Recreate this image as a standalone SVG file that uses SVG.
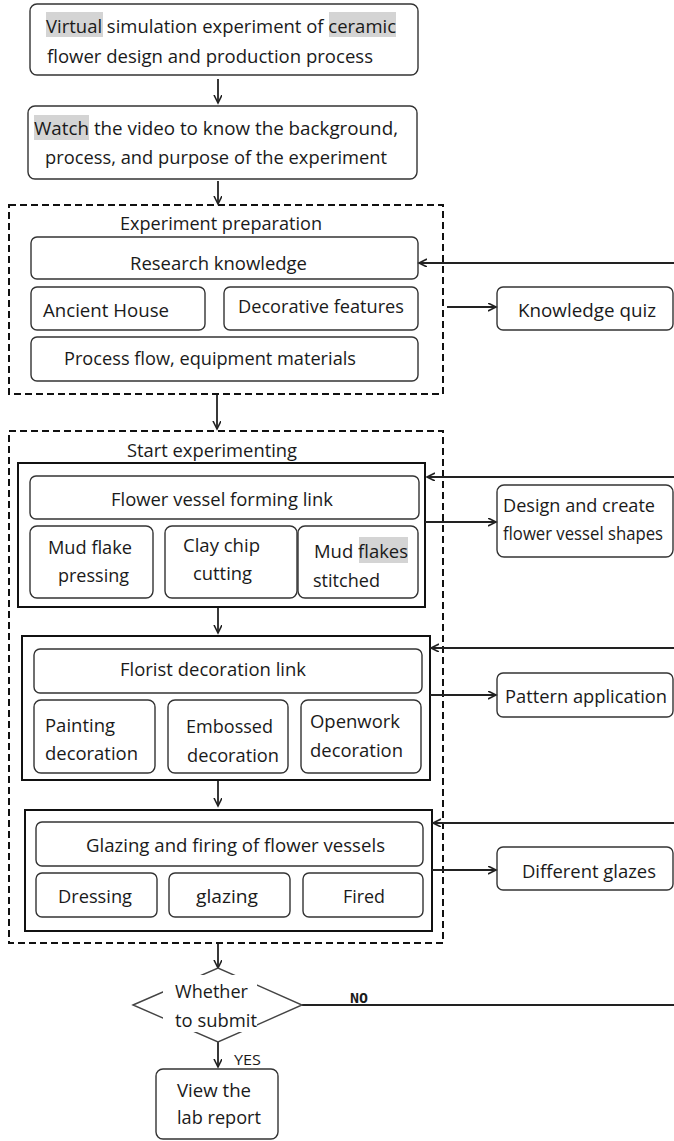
<svg xmlns="http://www.w3.org/2000/svg" width="674" height="1141" viewBox="0 0 674 1141">
<style>
.bg{fill:#ffffff}
.n{fill:#ffffff;stroke:#333;stroke-width:1.4}
.g{fill:none;stroke:#111;stroke-width:2}
.d{fill:none;stroke:#111;stroke-width:2;stroke-dasharray:7 4}
.hl{fill:#d4d4d4}
text{font-family:"Open Sans","Noto Sans","DejaVu Sans",sans-serif;font-size:19px;fill:#1a1a1a}
.sm{font-size:15px}
.c{stroke:#222;stroke-width:1.8;fill:none}
</style>
<defs>
<marker id="ah" markerUnits="userSpaceOnUse" markerWidth="10" markerHeight="10" refX="8" refY="4" orient="auto">
<path d="M0,0 L8,4 L0,8" fill="none" stroke="#222" stroke-width="1.6"/>
</marker>
</defs>
<rect class="bg" x="0" y="0" width="674" height="1141"/>

<g id="containers">
<rect id="prep" class="d" x="9" y="205" width="434" height="189"/>
<rect id="exp" class="d" x="9" y="431" width="434" height="512"/>
<rect id="forming" class="g" x="18" y="463" width="407" height="144"/>
<rect id="decor" class="g" x="22" y="636" width="408" height="144"/>
<rect id="glazefire" class="g" x="25" y="810" width="407" height="121"/>
<text x="120" y="230" textLength="202" lengthAdjust="spacingAndGlyphs">Experiment preparation</text>
<text x="127" y="457" textLength="170" lengthAdjust="spacingAndGlyphs">Start experimenting</text>
</g>

<g id="n1">
<rect class="n" x="30" y="4" width="388" height="71" rx="7"/>
<rect class="hl" x="46" y="12" width="57" height="25"/>
<rect class="hl" x="329" y="12" width="67" height="25"/>
<text x="46" y="33" textLength="350" lengthAdjust="spacingAndGlyphs">Virtual simulation experiment of ceramic</text>
<text x="47" y="63" textLength="326" lengthAdjust="spacingAndGlyphs">flower design and production process</text>
</g>
<g id="n2">
<rect class="n" x="28" y="106" width="389" height="73" rx="7"/>
<rect class="hl" x="34" y="115" width="55" height="25"/>
<text x="34" y="135" textLength="364" lengthAdjust="spacingAndGlyphs">Watch the video to know the background,</text>
<text x="45" y="164" textLength="342" lengthAdjust="spacingAndGlyphs">process, and purpose of the experiment</text>
</g>
<g id="n3">
<rect class="n" x="31" y="237" width="387" height="42" rx="6"/>
<text x="130" y="270" textLength="177" lengthAdjust="spacingAndGlyphs">Research knowledge</text>
</g>
<g id="n4">
<rect class="n" x="31" y="287" width="174" height="43" rx="6"/>
<text x="43" y="317" textLength="126" lengthAdjust="spacingAndGlyphs">Ancient House</text>
</g>
<g id="n5">
<rect class="n" x="224" y="287" width="194" height="43" rx="6"/>
<text x="238" y="313" textLength="166" lengthAdjust="spacingAndGlyphs">Decorative features</text>
</g>
<g id="n6">
<rect class="n" x="31" y="337" width="387" height="44" rx="6"/>
<text x="64" y="365" textLength="292" lengthAdjust="spacingAndGlyphs">Process flow, equipment materials</text>
</g>
<g id="n7">
<rect class="n" x="497" y="287" width="176" height="43" rx="6"/>
<text x="518" y="317" textLength="138" lengthAdjust="spacingAndGlyphs">Knowledge quiz</text>
</g>

<g id="n8">
<rect class="n" x="30" y="476" width="389" height="43" rx="6"/>
<text x="111" y="506" textLength="222" lengthAdjust="spacingAndGlyphs">Flower vessel forming link</text>
</g>
<g id="n9">
<rect class="n" x="30" y="526" width="123" height="72" rx="7"/>
<text x="48" y="554" textLength="84" lengthAdjust="spacingAndGlyphs">Mud flake</text>
<text x="58" y="582" textLength="71" lengthAdjust="spacingAndGlyphs">pressing</text>
</g>
<g id="n10">
<rect class="n" x="165" y="526" width="132" height="72" rx="7"/>
<text x="183" y="552" textLength="77" lengthAdjust="spacingAndGlyphs">Clay chip</text>
<text x="193" y="580" textLength="59" lengthAdjust="spacingAndGlyphs">cutting</text>
</g>
<g id="n11">
<rect class="n" x="298" y="526" width="120" height="72" rx="7"/>
<rect class="hl" x="359" y="537" width="49" height="26"/>
<text x="314" y="558" textLength="94" lengthAdjust="spacingAndGlyphs">Mud flakes</text>
<text x="313" y="587" textLength="67" lengthAdjust="spacingAndGlyphs">stitched</text>
</g>
<g id="n12">
<rect class="n" x="497" y="485" width="176" height="72" rx="7"/>
<text x="503" y="512" textLength="152" lengthAdjust="spacingAndGlyphs">Design and create</text>
<text x="503" y="540" textLength="160" lengthAdjust="spacingAndGlyphs" style="font-size:18px">flower vessel shapes</text>
</g>

<g id="n13">
<rect class="n" x="34" y="649" width="388" height="44" rx="6"/>
<text x="120" y="676" textLength="186" lengthAdjust="spacingAndGlyphs">Florist decoration link</text>
</g>
<g id="n14">
<rect class="n" x="34" y="700" width="121" height="73" rx="7"/>
<text x="45" y="732" textLength="70" lengthAdjust="spacingAndGlyphs">Painting</text>
<text x="45" y="760" textLength="93" lengthAdjust="spacingAndGlyphs">decoration</text>
</g>
<g id="n15">
<rect class="n" x="168" y="700" width="120" height="73" rx="7"/>
<text x="186" y="733" textLength="87" lengthAdjust="spacingAndGlyphs">Embossed</text>
<text x="187" y="762" textLength="92" lengthAdjust="spacingAndGlyphs">decoration</text>
</g>
<g id="n16">
<rect class="n" x="301" y="700" width="120" height="73" rx="7"/>
<text x="310" y="728" textLength="90" lengthAdjust="spacingAndGlyphs">Openwork</text>
<text x="310" y="757" textLength="93" lengthAdjust="spacingAndGlyphs">decoration</text>
</g>
<g id="n17">
<rect class="n" x="497" y="673" width="176" height="44" rx="6"/>
<text x="505" y="703" textLength="162" lengthAdjust="spacingAndGlyphs">Pattern application</text>
</g>

<g id="n18">
<rect class="n" x="36" y="822" width="387" height="44" rx="6"/>
<text x="86" y="852" textLength="299" lengthAdjust="spacingAndGlyphs">Glazing and firing of flower vessels</text>
</g>
<g id="n19">
<rect class="n" x="36" y="873" width="121" height="44" rx="6"/>
<text x="58" y="903" textLength="74" lengthAdjust="spacingAndGlyphs">Dressing</text>
</g>
<g id="n20">
<rect class="n" x="169" y="873" width="121" height="44" rx="6"/>
<text x="196" y="903" textLength="62" lengthAdjust="spacingAndGlyphs">glazing</text>
</g>
<g id="n21">
<rect class="n" x="303" y="873" width="120" height="44" rx="6"/>
<text x="343" y="903" textLength="42" lengthAdjust="spacingAndGlyphs">Fired</text>
</g>
<g id="n22">
<rect class="n" x="497" y="847" width="176" height="43" rx="6"/>
<text x="522" y="878" textLength="134" lengthAdjust="spacingAndGlyphs">Different glazes</text>
</g>

<g id="connectors">
<line class="c" x1="218" y1="79" x2="218" y2="103" marker-end="url(#ah)"/>
<line class="c" x1="218" y1="181" x2="218" y2="204" marker-end="url(#ah)"/>
<line class="c" x1="217" y1="395" x2="217" y2="429" marker-end="url(#ah)"/>
<line class="c" x1="218" y1="608" x2="218" y2="633" marker-end="url(#ah)"/>
<line class="c" x1="218" y1="781" x2="218" y2="806" marker-end="url(#ah)"/>
<line class="c" x1="218" y1="944" x2="218" y2="968" marker-end="url(#ah)"/>
<line class="c" x1="674" y1="263" x2="419" y2="263" marker-end="url(#ah)"/>
<line class="c" x1="447" y1="307" x2="496" y2="307" marker-end="url(#ah)"/>
<line class="c" x1="674" y1="477" x2="427" y2="477" marker-end="url(#ah)"/>
<line class="c" x1="425" y1="522" x2="496" y2="522" marker-end="url(#ah)"/>
<line class="c" x1="674" y1="648" x2="431" y2="648" marker-end="url(#ah)"/>
<line class="c" x1="430" y1="695" x2="496" y2="695" marker-end="url(#ah)"/>
<line class="c" x1="674" y1="823" x2="433" y2="823" marker-end="url(#ah)"/>
<line class="c" x1="432" y1="870" x2="496" y2="870" marker-end="url(#ah)"/>
<line class="c" x1="302" y1="1005" x2="674" y2="1005" stroke-width="2.2"/>
<line class="c" x1="218" y1="1042" x2="218" y2="1067" marker-end="url(#ah)"/>
<text x="350" y="1003" style="font-family:'DejaVu Sans Mono',monospace;font-size:14px;font-weight:bold" textLength="18" lengthAdjust="spacingAndGlyphs">NO</text>
<text x="234" y="1065" class="sm" textLength="27" lengthAdjust="spacingAndGlyphs">YES</text>
</g>

<g id="n23">
<polygon points="133,1005 218,968 302,1005 218,1042" fill="#fff" stroke="#444" stroke-width="1.4"/>
<rect x="163" y="975" width="94" height="57" fill="#fff"/>
<text x="175" y="998" textLength="73" lengthAdjust="spacingAndGlyphs">Whether</text>
<text x="175" y="1027" textLength="82" lengthAdjust="spacingAndGlyphs">to submit</text>
</g>
<g id="n24">
<rect class="n" x="156" y="1069" width="122" height="70" rx="7"/>
<text x="177" y="1097" textLength="74" lengthAdjust="spacingAndGlyphs">View the</text>
<text x="177" y="1124" textLength="84" lengthAdjust="spacingAndGlyphs">lab report</text>
</g>
</svg>
